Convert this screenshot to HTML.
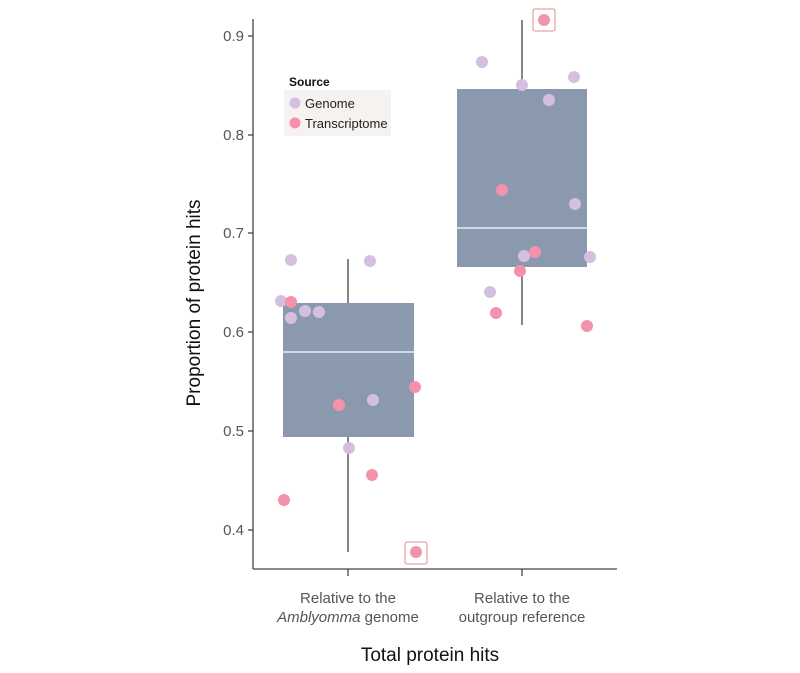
<!DOCTYPE html><html><head><style>body{margin:0;background:#fff}svg{display:block}text{font-family:"Liberation Sans",sans-serif}</style></head><body>
<svg width="800" height="673" viewBox="0 0 800 673">
<g stroke="#444" stroke-width="1.3" fill="none">
<line x1="253" y1="19" x2="253" y2="569"/><line x1="253" y1="569" x2="617" y2="569"/>
<line x1="248" y1="36" x2="253" y2="36"/><line x1="248" y1="135" x2="253" y2="135"/><line x1="248" y1="233" x2="253" y2="233"/><line x1="248" y1="332" x2="253" y2="332"/><line x1="248" y1="431" x2="253" y2="431"/><line x1="248" y1="530" x2="253" y2="530"/>
<line x1="348" y1="569" x2="348" y2="576"/><line x1="522" y1="569" x2="522" y2="576"/>
<line x1="348" y1="259" x2="348" y2="552"/><line x1="522" y1="20" x2="522" y2="325"/>
</g>
<rect x="283" y="303" width="131" height="134" fill="#8a99ae"/>
<line x1="283" y1="352" x2="414" y2="352" stroke="#e8edf3" stroke-width="1.5"/>
<rect x="457" y="89" width="130" height="178" fill="#8a99ae"/>
<line x1="457" y1="228" x2="587" y2="228" stroke="#e8edf3" stroke-width="1.5"/>
<g font-size="15" fill="#555" text-anchor="end">
<text x="244" y="41">0.9</text><text x="244" y="140">0.8</text><text x="244" y="238">0.7</text><text x="244" y="337">0.6</text><text x="244" y="436">0.5</text><text x="244" y="535">0.4</text>
</g>
<rect x="284" y="90" width="107" height="46" fill="#f6f2ef"/>
<text x="289" y="86" font-size="12" font-weight="bold" fill="#111">Source</text>
<circle cx="295" cy="103" r="5.5" fill="#d4bfdf"/><text x="305" y="108" font-size="13" fill="#222">Genome</text>
<circle cx="295" cy="123" r="5.5" fill="#f392aa"/><text x="305" y="128" font-size="13" fill="#222">Transcriptome</text>
<rect x="533" y="9" width="22" height="22" rx="2" fill="none" stroke="#e88c8c" stroke-width="1"/>
<rect x="405" y="542" width="22" height="22" rx="2" fill="none" stroke="#e88c8c" stroke-width="1"/>
<g fill="#d4bfdf">
<circle cx="291" cy="260" r="6"/><circle cx="370" cy="261" r="6"/><circle cx="281" cy="301" r="6"/><circle cx="291" cy="318" r="6"/><circle cx="305" cy="311" r="6"/><circle cx="319" cy="312" r="6"/><circle cx="373" cy="400" r="6"/><circle cx="349" cy="448" r="6"/>
<circle cx="482" cy="62" r="6"/><circle cx="522" cy="85" r="6"/><circle cx="574" cy="77" r="6"/><circle cx="549" cy="100" r="6"/><circle cx="575" cy="204" r="6"/><circle cx="524" cy="256" r="6"/><circle cx="590" cy="257" r="6"/><circle cx="490" cy="292" r="6"/>
</g>
<g fill="#f392aa">
<circle cx="291" cy="302" r="6"/><circle cx="415" cy="387" r="6"/><circle cx="339" cy="405" r="6"/><circle cx="372" cy="475" r="6"/><circle cx="284" cy="500" r="6"/><circle cx="416" cy="552" r="6"/>
<circle cx="544" cy="20" r="6"/><circle cx="502" cy="190" r="6"/><circle cx="535" cy="252" r="6"/><circle cx="520" cy="271" r="6"/><circle cx="496" cy="313" r="6"/><circle cx="587" cy="326" r="6"/>
</g>
<g font-size="15" fill="#555" text-anchor="middle">
<text x="348" y="603">Relative to the</text><text x="348" y="622"><tspan font-style="italic">Amblyomma</tspan> genome</text>
<text x="522" y="603">Relative to the</text><text x="522" y="622">outgroup reference</text>
</g>
<text x="430" y="661" font-size="19" fill="#111" text-anchor="middle">Total protein hits</text>
<text transform="translate(200,303) rotate(-90)" font-size="19" fill="#111" text-anchor="middle">Proportion of protein hits</text>
</svg></body></html>
